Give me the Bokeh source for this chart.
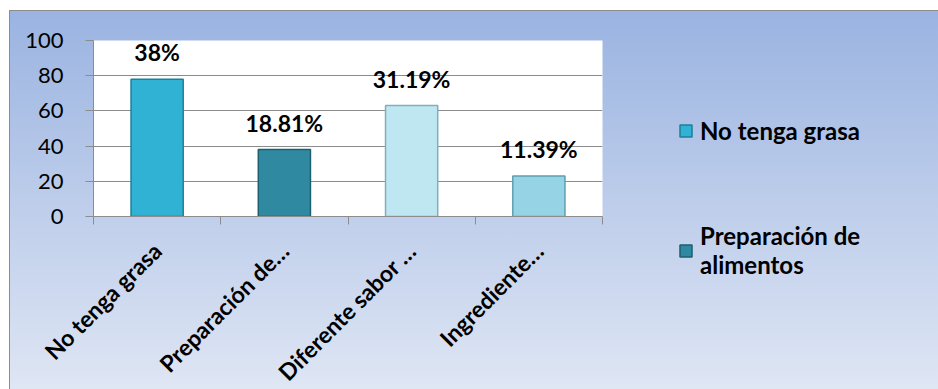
import math
from bokeh.plotting import figure
from bokeh.models import ColumnDataSource, Range1d, FixedTicker, LabelSet, Legend, LegendItem
from bokeh.core.properties import value
from bokeh.embed import file_html
from bokeh.resources import INLINE

categories = ["No tenga grasa", "Preparación de…", "Diferente sabor …", "Ingrediente…"]
values = [78, 38, 63, 23]
pct_labels = ["38%", "18.81%", "31.19%", "11.39%"]
bar_colors = ["#30B2D5", "#2F8AA1", "#BFE7F1", "#96D4E5"]
bar_lines = ["#1E7F99", "#1D5F70", "#7FAFBC", "#5E9FB0"]
legend_labels = ["No tenga grasa", "Preparación de\nalimentos"]
y_ticks = [0, 20, 40, 60, 80, 100]

FONT = "Lato"
GRID = "#8c8c8c"

x = [i + 0.5 for i in range(len(categories))]
src = ColumnDataSource(dict(x=x, top=values, color=bar_colors, line=bar_lines, label=pct_labels))

p = figure(frame_width=509, frame_height=176, x_range=Range1d(0, len(categories)), y_range=Range1d(0, 100),
           output_backend="svg", toolbar_location=None,
           min_border_left=93, min_border_right=336, min_border_top=40, min_border_bottom=173)
p.border_fill_color = None
p.background_fill_color = "#ffffff"
p.outline_line_color = None
p.styles = {
    "background": ("linear-gradient(#8c8c8c,#8c8c8c) 9px 10px / 929px 1px no-repeat, "
                   "linear-gradient(#8c8c8c,#8c8c8c) 9px 10px / 1px 379px no-repeat, "
                   "linear-gradient(to bottom, #9AB3E1, #DFE6F4) 9px 10px / 929px 379px no-repeat, #ffffff")
}

p.xgrid.visible = False
p.ygrid.ticker = FixedTicker(ticks=y_ticks)
p.ygrid.grid_line_color = GRID

ya = p.yaxis[0]
ya.ticker = FixedTicker(ticks=y_ticks)
ya.axis_line_color = GRID
ya.major_tick_line_color = GRID
ya.major_tick_out = 8
ya.major_tick_in = 0
ya.minor_tick_line_color = None
ya.major_label_text_font = FONT
ya.major_label_text_font_size = "22px"
ya.major_label_text_color = "#000000"
ya.major_label_standoff = 22

xa = p.xaxis[0]
xa.ticker = FixedTicker(ticks=x, minor_ticks=list(range(len(categories) + 1)))
xa.axis_line_color = GRID
xa.major_tick_line_color = None
xa.major_tick_out = 0
xa.major_tick_in = 0
xa.minor_tick_line_color = GRID
xa.minor_tick_out = 8
xa.minor_tick_in = 0
xa.major_label_overrides = {t: c for t, c in zip(x, categories)}
xa.major_label_orientation = math.pi / 4
xa.major_label_text_font = FONT
xa.major_label_text_font_style = "bold"
xa.major_label_text_font_size = "23px"
xa.major_label_text_color = "#000000"
xa.major_label_standoff = 22

r = p.vbar(x="x", top="top", bottom=0, width=0.41, fill_color="color", line_color="line",
           line_width=1.5, source=src)

labels = LabelSet(x="x", y="top", text="label", y_offset=18, text_align="center",
                  text_baseline="alphabetic", text_font=value(FONT), text_font_style="bold",
                  text_font_size="23px", text_color="#000000", source=src)
p.add_layout(labels)

legend = Legend(items=[LegendItem(label=legend_labels[0], renderers=[r], index=0),
                       LegendItem(label=legend_labels[1], renderers=[r], index=1)],
                location="top_left", padding=0, margin=76, spacing=76,
                glyph_width=15, glyph_height=15, label_standoff=7,
                label_text_font=FONT, label_text_font_style="bold", label_text_font_size="24px",
                label_text_line_height=1.5,
                label_text_color="#000000", background_fill_alpha=0, border_line_color=None)
p.add_layout(legend, "right")

open("out.html", "w").write(file_html(p, INLINE))
